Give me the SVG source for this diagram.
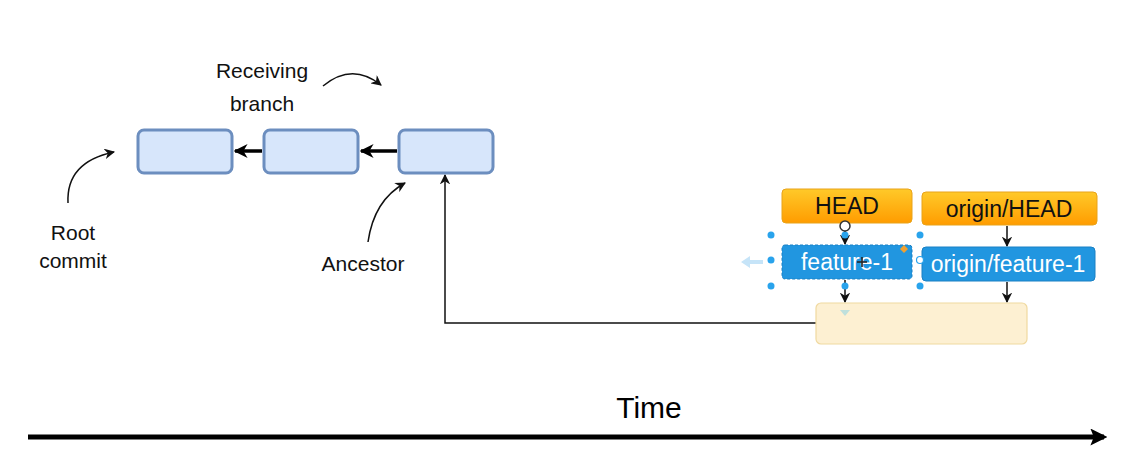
<svg xmlns="http://www.w3.org/2000/svg" width="1122" height="463" viewBox="0 0 1122 463">
<defs>
<marker id="thick" viewBox="0 0 10 10" refX="9" refY="5" markerWidth="4" markerHeight="4" orient="auto"><path d="M0,0 L10,5 L0,10 L3,5 Z" fill="#000"/></marker>
<marker id="thin" viewBox="0 0 10 10" refX="9" refY="5" markerWidth="7" markerHeight="7" orient="auto"><path d="M0,0 L10,5 L0,10 L3,5 Z" fill="#111"/></marker>
<marker id="time" viewBox="0 0 10 10" refX="8" refY="5" markerWidth="3.4" markerHeight="3.4" orient="auto"><path d="M0,0 L10,5 L0,10 L2,5 Z" fill="#000"/></marker>
<linearGradient id="orange" x1="0" y1="0" x2="0" y2="1"><stop offset="0" stop-color="#ffc929"/><stop offset="1" stop-color="#ff9c00"/></linearGradient>
</defs>
<style>
.commit{fill:#d7e6fb;stroke:#6c8ebf;stroke-width:3}
.lbl{font-family:"Liberation Sans",Arial,sans-serif;font-size:21px;fill:#111;text-anchor:middle}
.ref{fill:url(#orange);stroke:#e8a31a;stroke-width:1}
.br{fill:#2196e0;stroke:#1a80c4;stroke-width:1}
.wt{font-family:"Liberation Sans",Arial,sans-serif;font-size:23px;fill:#fff;text-anchor:middle}
.bt{font-family:"Liberation Sans",Arial,sans-serif;font-size:23px;fill:#111;text-anchor:middle}
.h{fill:#29a3ec}
.conn{fill:none;stroke:#111;stroke-width:1.5}
.curve{fill:none;stroke:#111;stroke-width:1.5}
</style>
<rect width="1122" height="463" fill="#fff"/>

<g id="connectors">
<line x1="262" y1="151" x2="235" y2="151" stroke="#000" stroke-width="3.5" marker-end="url(#thick)"/>
<line x1="397" y1="151" x2="361" y2="151" stroke="#000" stroke-width="3.5" marker-end="url(#thick)"/>
<polyline class="conn" points="816,323 445,323 445,175" marker-end="url(#thin)"/>
<line class="conn" x1="1007" y1="226" x2="1007" y2="246" marker-end="url(#thin)"/>
<line class="conn" x1="1007" y1="282" x2="1007" y2="302" marker-end="url(#thin)"/>
<line class="conn" x1="845" y1="224" x2="845" y2="244" marker-end="url(#thin)"/>
<line class="conn" x1="845" y1="280" x2="845" y2="302" marker-end="url(#thin)"/>
<path class="curve" d="M323,86 Q352,62 381,85" marker-end="url(#thin)"/>
<path class="curve" d="M68,203 Q66,162 114,152" marker-end="url(#thin)"/>
<path class="curve" d="M368,242 Q374,200 405,183" marker-end="url(#thin)"/>
<line x1="28" y1="437" x2="1104" y2="437" stroke="#000" stroke-width="5" marker-end="url(#time)"/>
</g>

<g id="commit1"><rect class="commit" x="138" y="130" width="94" height="43" rx="6"/></g>
<g id="commit2"><rect class="commit" x="264" y="130" width="94" height="43" rx="6"/></g>
<g id="commit3"><rect class="commit" x="399" y="130" width="94" height="43" rx="6"/></g>

<g id="label-receiving"><text class="lbl" x="262" y="78">Receiving</text><text class="lbl" x="262" y="111">branch</text></g>
<g id="label-root"><text class="lbl" x="73" y="240">Root</text><text class="lbl" x="73" y="268">commit</text></g>
<g id="label-ancestor"><text class="lbl" x="363" y="271">Ancestor</text></g>

<g id="merge-commit"><rect x="816" y="303" width="211" height="41" rx="5" fill="#fdf0d2" stroke="#f0d9a0" stroke-width="1.2"/></g>

<g id="head"><rect class="ref" x="782" y="189" width="130" height="34" rx="4"/><text class="bt" x="847" y="214">HEAD</text></g>
<g id="origin-head"><rect class="ref" x="922" y="192" width="175" height="33" rx="4"/><text class="bt" x="1009" y="217">origin/HEAD</text></g>
<g id="feature-1"><rect class="br" x="782" y="245" width="130" height="34" rx="3" stroke-dasharray="3,2"/><text class="wt" x="847" y="270">feature-1</text></g>
<g id="origin-feature-1"><rect class="br" x="922" y="247" width="173" height="34" rx="4"/><text class="wt" x="1008" y="272">origin/feature-1</text></g>

<g id="selection">
<circle class="h" cx="771" cy="235" r="3.5"/><circle class="h" cx="845" cy="235" r="3.5"/><circle class="h" cx="920" cy="235" r="3.5"/>
<circle class="h" cx="771" cy="260" r="3.5"/><circle cx="920" cy="260" r="3.5" fill="#fff" stroke="#29a3ec" stroke-width="1.2"/>
<circle class="h" cx="771" cy="286" r="3.5"/><circle class="h" cx="845" cy="286" r="3.5"/><circle class="h" cx="920" cy="286" r="3.5"/>
<path d="M904,245 L908,249 L904,253 L900,249 Z" fill="#f0a030"/>
<path d="M741,262 L750,256 L750,260 L763,260 L763,264 L750,264 L750,268 Z" fill="#c6e4f8"/>
<path d="M840,310 L850,310 L845,316 Z" fill="#bfe0dc"/>
<circle cx="845" cy="226" r="5" fill="#fff" stroke="#333" stroke-width="1.5"/>
<path d="M862,257 L862,267 M857,262 L867,262" stroke="#222" stroke-width="1.6"/>
</g>

<g id="time-label"><text x="649" y="418" font-family="'Liberation Sans',Arial,sans-serif" font-size="30" fill="#000" text-anchor="middle">Time</text></g>
</svg>
